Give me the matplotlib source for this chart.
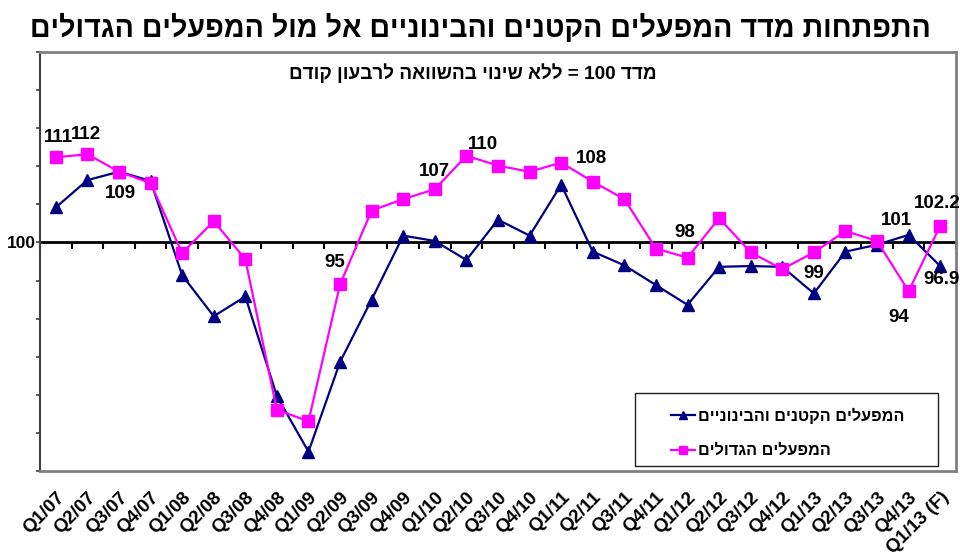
import matplotlib
matplotlib.use("Agg")
import matplotlib.pyplot as plt
from matplotlib.patches import Rectangle
import numpy as np

plt.rcParams['font.family'] = ['Liberation Sans', 'DejaVu Sans']
plt.rcParams['font.weight'] = 'bold'

# quarters
quarters = ['Q1/07', 'Q2/07', 'Q3/07', 'Q4/07',
            'Q1/08', 'Q2/08', 'Q3/08', 'Q4/08',
            'Q1/09', 'Q2/09', 'Q3/09', 'Q4/09',
            'Q1/10', 'Q2/10', 'Q3/10', 'Q4/10',
            'Q1/11', 'Q2/11', 'Q3/11', 'Q4/11',
            'Q1/12', 'Q2/12', 'Q3/12', 'Q4/12',
            'Q1/13', 'Q2/13', 'Q3/13', 'Q4/13', 'Q1/13 (F)']

# small and medium plants (triangles)
small_medium = [104.6, 108.2, 109.3, 108.1,
                95.7, 90.3, 92.9, 79.8,
                72.5, 84.3, 92.5, 100.9,
                100.2, 97.7, 103.0, 100.9,
                107.6, 98.8, 97.0, 94.4,
                91.8, 96.8, 96.9, 96.8,
                93.3, 98.8, 99.7, 101.0, 96.9]

# large plants (squares)
large = [111.2, 111.6, 109.3, 107.8,
         98.6, 102.8, 97.8, 78.0,
         76.5, 94.5, 104.2, 105.7,
         107.0, 111.4, 110.1, 109.3,
         110.5, 108.0, 105.7, 99.2,
         98.0, 103.2, 98.7, 96.5,
         98.7, 101.5, 100.2, 93.6, 102.2]

# data labels: (series, index, text, offset in points)
point_labels = [('L', 0, '111', (2, 14)),
                ('L', 1, '112', (-1, 14)),
                ('L', 2, '109', (1, -16)),
                ('L', 9, '95', (-4, 16)),
                ('L', 12, '107', (0, 13)),
                ('L', 14, '110', (-11, 15)),
                ('L', 17, '108', (-1, 17)),
                ('L', 20, '98', (-2, 18)),
                ('L', 24, '99', (0, -15)),
                ('S', 27, '101', (-9, 10)),
                ('L', 28, '102.2', (-2, 16)),
                ('S', 28, '96.9', (1, -10)),
                ('L', 27, '94', (-7, -19))]

title = 'התפתחות מדד המפעלים הקטנים והבינוניים אל מול המפעלים הגדולים'
subtitle = 'מדד 100 = ללא שינוי בהשוואה לרבעון קודם'
name_small = 'המפעלים הקטנים והבינוניים'
name_large = 'המפעלים הגדולים'


def heb(s):
    # matplotlib has no bidi: put right-to-left text in visual order
    words = s.split(' ')[::-1]
    out = []
    for w in words:
        if any('\u0590' <= c <= '\u05ff' for c in w):
            w = w[::-1]
        out.append(w)
    return ' '.join(out)


navy = '#000080'
magenta = '#ff00ff'
x = np.arange(len(quarters))

fig = plt.figure(figsize=(9.6, 5.56), dpi=100)
ax = fig.add_axes([40 / 960, 85.3 / 556, 916 / 960, 418.4 / 556])

ax.plot(x, small_medium, color=navy, lw=1.6, marker='^', ms=9,
        label=heb(name_small), zorder=3)
ax.plot(x, large, color=magenta, lw=1.6, marker='s', ms=8.5,
        label=heb(name_large), zorder=4)

ax.set_xlim(-0.5, len(quarters) - 0.5)
ax.set_ylim(70, 125)

# value axis: ticks every 5, only 100 labelled
yt = np.arange(70, 126, 5)
ax.set_yticks(yt)
ax.set_yticklabels(['100' if v == 100 else '' for v in yt],
                   fontsize=12.5, fontweight='bold')
ax.tick_params(axis='y', direction='out', length=3, width=1.2,
               color='#404040', pad=0)

# category labels at the bottom
ax.set_xticks(x)
ax.set_xticklabels(quarters, rotation=45, ha='right',
                   rotation_mode='anchor', fontsize=13.5, fontweight='bold')
ax.tick_params(axis='x', length=0, pad=13)

for side in ['top', 'right', 'bottom']:
    ax.spines[side].set_color('#808080')
    ax.spines[side].set_linewidth(2)
ax.spines['left'].set_color('#404040')
ax.spines['left'].set_linewidth(1.5)

# category axis crossing at 100
cross = ax.secondary_xaxis((100 - 70) / (125 - 70))
cross.set_xticks(np.arange(-0.5, len(quarters), 1))
cross.tick_params(direction='in', length=5, width=1.5, color='black',
                  labeltop=False, labelbottom=False)
for sp in cross.spines.values():
    sp.set_color('black')
    sp.set_linewidth(2)

for ser, i, txt, off in point_labels:
    y = large[i] if ser == 'L' else small_medium[i]
    ax.annotate(txt, xy=(i, y), xytext=off, textcoords='offset points',
                ha='center', va='center', fontsize=13.5, fontweight='bold',
                annotation_clip=False)

ax.text(0.473, 0.95, heb(subtitle), transform=ax.transAxes, ha='center',
        va='center', fontsize=13.7, fontweight='bold')

# legend box
ax.add_patch(Rectangle((0.6496, 0.0112), 0.3307, 0.1745,
                       transform=ax.transAxes, fill=False,
                       edgecolor='#202020', lw=1, zorder=5))
ax.legend(loc='upper left', bbox_to_anchor=(0.68, 0.17), frameon=False,
          borderpad=0, handlelength=1.5, handletextpad=0.15,
          labelspacing=1.2, markerscale=0.7,
          prop={'size': 11.7, 'weight': 'bold'})

fig.text(0.5, 1 - 28 / 556, heb(title), ha='center', va='center',
         fontsize=20.6, fontweight='bold')

fig.savefig('out.png', dpi=100)
